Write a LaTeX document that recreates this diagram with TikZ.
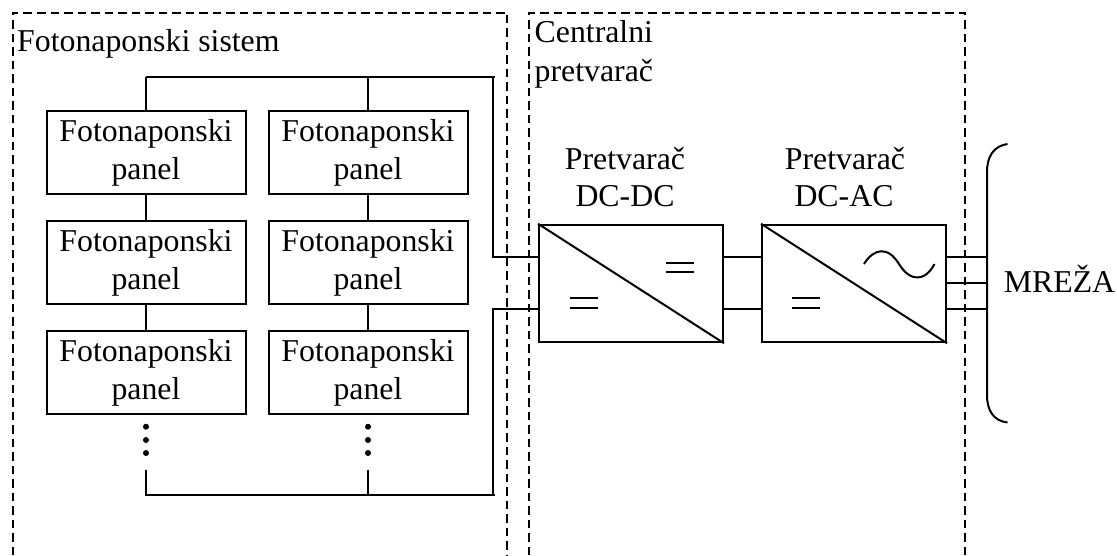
\documentclass[tikz,border=0pt]{standalone}
\usepackage{fontspec}
\setmainfont{Liberation Serif}
\tikzset{
  x=1pt,y=-1pt,
  wire/.style={line width=2pt,black},
  thin wire/.style={line width=2pt,black},
  zone/.style={line width=2pt,dash pattern=on 8.5pt off 5pt},
  panelbox/.style={draw,line width=2pt,minimum width=199pt,minimum height=83pt,inner sep=0pt,align=center,font=\fontsize{31.8}{37.3}\selectfont},
  convbox/.style={draw,line width=2pt,minimum width=184pt,minimum height=117.5pt,inner sep=0pt},
  lbl/.style={inner sep=0pt,font=\fontsize{31.8}{37.3}\selectfont,anchor=base},
  dot/.style={circle,fill=black,inner sep=0pt,minimum size=6pt},
}
\begin{document}
\begin{tikzpicture}
\useasboundingbox (0,0) rectangle (1117,555);
% zones
\draw[zone] (12.5,555) -- (12.5,12.5) -- (507.3,12.5) -- (507.3,555);
\draw[zone] (529,555) -- (529,12.5) -- (964.5,12.5) -- (964.5,555);
\node[lbl,anchor=base west] (t1) at (17,51) {Fotonaponski sistem};
\node[lbl,anchor=base west] (t2) at (534.5,42.7) {Centralni};
\node[lbl,anchor=base west] (t3) at (534.5,81) {pretvarač};
% panels
\foreach \c/\x in {a/146,b/368}{
  \node[panelbox] (\c1) at (\x,152.8) {Fotonaponski\\panel};
  \node[panelbox] (\c2) at (\x,262.8) {Fotonaponski\\panel};
  \node[panelbox] (\c3) at (\x,372.7) {Fotonaponski\\panel};
  \draw[thin wire] (\c1) -- (\c2);
  \draw[thin wire] (\c2) -- (\c3);
  \node[dot] (\c d1) at (\x,426.7) {};
  \node[dot] (\c d2) at (\x,440) {};
  \node[dot] (\c d3) at (\x,453) {};
  \coordinate (\c top) at (\x,77);
  \coordinate (\c stub) at (\x,469.5);
  \coordinate (\c bot) at (\x,494.7);
}
% converters
\node[convbox] (dcdc) at (631,283.5) {};
\node[convbox] (dcac) at (854,283.5) {};
\draw[wire] (dcdc.north west) -- (dcdc.south east);
\draw[wire] (dcac.north west) -- (dcac.south east);
\node[lbl] (p1) at (625,169) {Pretvarač};
\node[lbl] (p2) at (625,206.5) {DC-DC};
\node[lbl] (p3) at (845,169) {Pretvarač};
\node[lbl] (p4) at (844,206.5) {DC-AC};
% equal signs
\draw[wire] (666,262.5) -- (694,262.5) (666,271.7) -- (694,271.7);
\draw[wire] (570,298) -- (598,298) (570,307.5) -- (598,307.5);
\draw[wire] (792,298) -- (820,298) (792,307.5) -- (820,307.5);
% sine
\draw[wire] (864,264) .. controls (874,248) and (888,246) .. (899,264) .. controls (910,282) and (925,282) .. (934.5,264);
% wiring
\coordinate (topend) at (495,77);
\coordinate (botend) at (495,494.7);
\coordinate (cornertop) at (492.5,77);
\coordinate (cornerbot) at (492.5,494.7);
\coordinate (in1) at (dcdc.west |- 0,256.7);
\coordinate (in2) at (dcdc.west |- 0,309.3);
\draw[wire] (atop) -- (topend);
\draw[wire] (cornertop) -- (cornertop |- in1) -- (in1);
\draw[thin wire] (atop) -- (a1);
\draw[thin wire] (btop) -- (b1);
\draw[wire] (astub) -- (abot) -- (botend);
\draw[wire] (cornerbot) -- (cornerbot |- in2) -- (in2);
\draw[thin wire] (bstub) -- (bbot);
\coordinate (o1) at (dcdc.east |- 0,256.7);
\coordinate (o2) at (dcdc.east |- 0,309.3);
\coordinate (i1) at (dcac.west |- 0,256.7);
\coordinate (i2) at (dcac.west |- 0,309.3);
\draw[wire] (o1) -- (i1);
\draw[wire] (o2) -- (i2);
% grid
\node[lbl] (mreza) at (1059.5,292.5) {MREŽA};
\coordinate (bt) at (1007.5,144);
\coordinate (bb) at (1007.5,422.5);
\draw[wire] (bt) .. controls (994,146) and (987,156) .. (987,172) -- (987,395) .. controls (987,411) and (994,421) .. (bb);
\coordinate (g1) at (dcac.east |- 0,256.7);
\coordinate (g2) at (dcac.east |- 0,283);
\coordinate (g3) at (dcac.east |- 0,309.3);
\draw[wire] (g1) -- (987,256.7);
\draw[wire] (g2) -- (987,283);
\draw[wire] (g3) -- (987,309.3);
\end{tikzpicture}
\end{document}
